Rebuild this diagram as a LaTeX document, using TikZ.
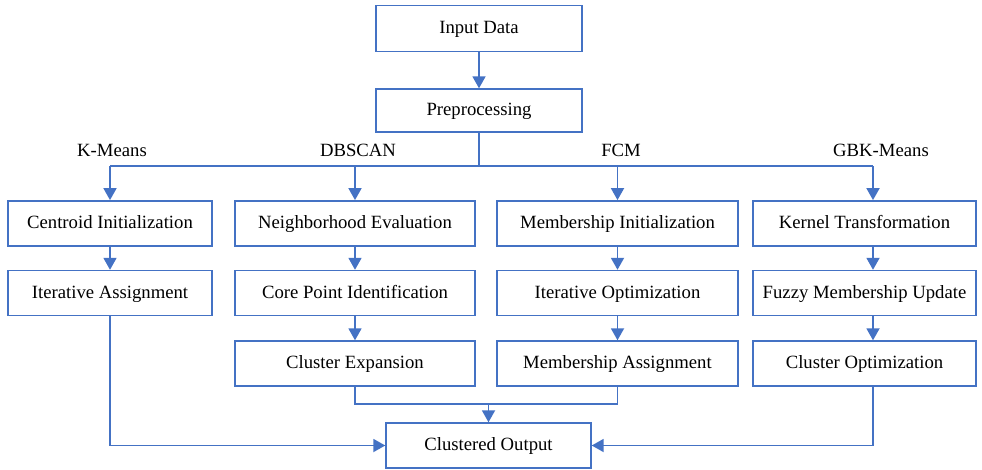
\documentclass[tikz,border=0pt]{standalone}
\usepackage{fontspec}
\setmainfont{Liberation Serif}
\usetikzlibrary{arrows.meta}
\definecolor{flowblue}{RGB}{68,114,196}
\begin{document}
\begin{tikzpicture}[x=1pt, y=-1pt,
  box/.style={rectangle, draw=flowblue, line width=1.4pt, fill=white, inner sep=0pt, minimum height=45pt, text height=13.5pt, text depth=3.5pt, font=\fontsize{18.7}{21}\selectfont},
  algo/.style={font=\fontsize{18.7}{21}\selectfont, inner sep=0pt, text height=13.5pt, text depth=3.5pt},
  line/.style={draw=flowblue, line width=1.8pt},
  arrow/.style={line, -{Triangle[length=12pt, width=13pt]}}
]
  \useasboundingbox (0,0) rectangle (982,469);
  \node[box, minimum width=206pt, minimum height=46pt] (in) at (479,28.5) {Input Data};
  \node[box, minimum width=206pt, minimum height=43pt] (pre) at (479,110.5) {Preprocessing};

  \node[algo] (km) at (112,151) {K-Means};
  \node[algo] (db) at (358,151) {DBSCAN};
  \node[algo] (fc) at (621,151) {FCM};
  \node[algo] (gb) at (881,151) {GBK-Means};

  \node[box, minimum width=204pt] (ci) at (110,223.3) {Centroid Initialization};
  \node[box, minimum width=204pt] (ia) at (110,293) {Iterative Assignment};

  \node[box, minimum width=240pt] (ne) at (355,223.3) {Neighborhood Evaluation};
  \node[box, minimum width=240pt] (cp) at (355,293) {Core Point Identification};
  \node[box, minimum width=240pt] (ce) at (355,363.5) {Cluster Expansion};

  \node[box, minimum width=241pt] (mi) at (617.5,223.3) {Membership Initialization};
  \node[box, minimum width=241pt] (io) at (617.5,293) {Iterative Optimization};
  \node[box, minimum width=241pt] (ma) at (617.5,363.5) {Membership Assignment};

  \node[box, minimum width=223pt] (kt) at (864.5,223.3) {Kernel Transformation};
  \node[box, minimum width=223pt] (fm) at (864.5,293) {Fuzzy Membership Update};
  \node[box, minimum width=223pt] (co) at (864.5,363.5) {Cluster Optimization};

  \node[box, minimum width=205pt] (out) at (488.5,445.5) {Clustered Output};

  \coordinate (split) at (479,166);
  \coordinate (gk) at (873,166);
  \coordinate (merge) at (488.5,404);

  \draw[arrow] (in) -- (pre);
  \draw[line] (pre) -- (split);
  \draw[line] (split -| ci) -- (gk);
  \draw[arrow] (split -| ci) -- (ci);
  \draw[arrow] (split -| ne) -- (ne);
  \draw[arrow] (split -| mi) -- (mi);
  \draw[arrow] (gk) -- (gk |- kt.north);

  \draw[arrow] (ci) -- (ia);
  \draw[arrow] (ne) -- (cp);
  \draw[arrow] (cp) -- (ce);
  \draw[arrow] (mi) -- (io);
  \draw[arrow] (io) -- (ma);
  \draw[arrow] (gk |- kt.south) -- (gk |- fm.north);
  \draw[arrow] (gk |- fm.south) -- (gk |- co.north);

  \draw[arrow] (ia) |- (out);
  \draw[line] (ce) |- (merge);
  \draw[line] (ma) |- (merge);
  \draw[arrow] (merge) -- (out);
  \draw[arrow] (gk |- co.south) |- (out);
\end{tikzpicture}
\end{document}
